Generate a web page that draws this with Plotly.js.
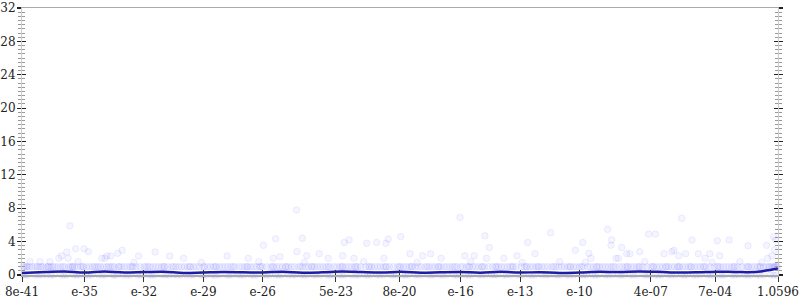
<!DOCTYPE html>
<html><head><meta charset="utf-8">
<script src="https://cdn.plot.ly/plotly-3.0.1.min.js"></script>
<style>html,body{margin:0;padding:0;background:#fff}#c{width:800px;height:300px}</style>
</head><body><div id="c"></div>
<script>
// x values are given as base-10 exponents of the (log-scaled) x quantity
const tickExp = [-38.16, -35, -32, -29, -26, -22.301, -19.097, -16, -13, -10, -6.398, -3.155, 0.02514];
const tickText = ["8e-41", "e-35", "e-32", "e-29", "e-26", "5e-23", "8e-20", "e-16", "e-13", "e-10", "4e-07", "7e-04", "1.0596"];

const row1Exp = [-38.1,-37.95,-37.8,-37.4,-37.2,-37.1,-36.8,-36.6,-36.5,-36.1,-35.8,-35.6,-35.5,-35.2,-35.05,-34.9,-34.6,-34.4,-34.2,-33.9,-33.7,-33.5,-33.3,-33.0,-32.85,-32.7,-32.4,-32.0,-31.9,-31.7,-31.4,-31.25,-31.1,-30.8,-30.6,-30.4,-30.1,-29.8,-29.65,-29.5,-29.2,-28.95,-28.8,-28.5,-28.35,-28.2,-27.9,-27.6,-27.4,-27.2,-26.9,-26.6,-26.45,-26.3,-26.0,-25.8,-25.6,-25.3,-25.15,-25.0,-24.7,-24.4,-24.2,-24.0,-23.7,-23.55,-23.4,-23.1,-22.8,-22.6,-22.4,-22.1,-21.95,-21.8,-21.5,-21.35,-21.2,-20.8,-20.5,-20.35,-20.2,-19.9,-19.75,-19.6,-19.2,-19.05,-18.9,-18.6,-18.3,-18.15,-18.0,-17.6,-17.45,-17.3,-17.0,-16.7,-16.55,-16.4,-16.0,-15.9,-15.7,-15.4,-15.25,-15.1,-14.8,-14.4,-14.25,-14.1,-13.8,-13.65,-13.5,-13.2,-12.95,-12.8,-12.5,-12.35,-12.2,-11.9,-11.6,-11.4,-11.2,-10.9,-10.75,-10.6,-10.3,-10.15,-10.0,-9.6,-9.45,-9.3,-9.0,-8.85,-8.7,-8.4,-8.2,-8.0,-7.7,-7.55,-7.4,-7.1,-6.95,-6.8,-6.4,-6.25,-6.1,-5.8,-5.65,-5.5,-5.2,-4.95,-4.8,-4.5,-4.35,-4.2,-3.9,-3.75,-3.6,-3.2,-3.05,-2.9,-2.6,-2.45,-2.3,-2.0,-1.8,-1.6,-1.3,-1.15,-1.0,-0.7,-0.55,-0.4,-0.2,-0.1,0.0];
const row1ExpB = [-38.02,-37.65,-37.3,-36.95,-36.7,-36.35,-36.0,-35.7,-35.35,-34.75,-34.5,-34.05,-33.8,-33.15,-32.55,-32.2,-31.55,-30.95,-30.25,-29.95,-29.35,-28.65,-28.05,-27.75,-27.05,-26.75,-26.15,-25.45,-24.85,-24.55,-23.85,-23.25,-22.95,-22.25,-21.65,-21.05,-20.65,-20.05,-19.4,-18.75,-18.45,-17.8,-17.15,-16.85,-16.2,-15.55,-14.95,-14.6,-13.95,-13.35,-12.65,-12.05,-11.75,-11.05,-10.45,-9.8,-9.15,-8.55,-7.85,-7.25,-6.6,-5.95,-5.35,-5.05,-4.65,-4.05,-3.4,-2.75,-2.15,-1.45,-0.85,-0.3];
const row1ExpC = [-37.9,-37.5,-36.85,-36.2,-35.62,-35.1,-34.3,-33.6,-33.25,-32.6,-31.8,-31.0,-30.5,-29.7,-29.0,-28.4,-27.5,-26.8,-26.1,-25.5,-24.8,-24.1,-23.5,-22.7,-22.0,-21.3,-20.6,-19.8,-19.1,-18.5,-17.7,-17.1,-16.3,-15.6,-14.9,-14.2,-13.4,-12.7,-12.1,-11.3,-10.5,-9.9,-9.1,-8.3,-7.6,-7.0,-6.3,-5.6,-5.0,-4.4,-3.7,-3.0,-2.2,-1.5,-0.9,-0.45,-0.15,-0.05];
const row1Val = 1;

const row0Exp = [-38.12,-37.85,-37.5,-37.15,-36.9,-36.55,-36.2,-35.9,-35.55,-35.25,-34.95,-34.65,-34.3,-33.95,-33.6,-33.35,-33.05,-32.7,-32.35,-32.05,-31.75,-31.45,-31.1,-30.75,-30.5,-30.15,-29.85,-29.5,-29.15,-28.85,-28.55,-28.2,-27.85,-27.55,-27.25,-26.95,-26.6,-26.3,-25.95,-25.65,-25.35,-25.05,-24.7,-24.35,-24.05,-23.75,-23.45,-23.1,-22.75,-22.45,-22.15,-21.85,-21.5,-21.15,-20.85,-20.55,-20.25,-19.9,-19.55,-19.25,-18.95,-18.65,-18.3,-17.95,-17.65,-17.35,-17.05,-16.7,-16.35,-16.05,-15.75,-15.45,-15.1,-14.75,-14.45,-14.15,-13.85,-13.5,-13.15,-12.85,-12.55,-12.25,-11.9,-11.55,-11.25,-10.95,-10.65,-10.3,-9.95,-9.65,-9.35,-9.05,-8.7,-8.35,-8.05,-7.75,-7.45,-7.1,-6.75,-6.45,-6.15,-5.85,-5.5,-5.15,-4.85,-4.55,-4.25,-3.9,-3.55,-3.25,-2.95,-2.65,-2.3,-1.95,-1.65,-1.35,-1.05,-0.7,-0.35,-0.05];
const row0ExpB = [-38.0,-37.3,-36.7,-36.05,-35.4,-34.8,-34.1,-33.5,-32.85,-32.2,-31.6,-30.9,-30.3,-29.65,-29.0,-28.4,-27.7,-27.1,-26.45,-25.8,-25.2,-24.5,-23.9,-23.3,-22.6,-22.0,-21.3,-20.7,-20.1,-19.4,-18.8,-18.15,-17.5,-16.9,-16.2,-15.6,-14.95,-14.3,-13.7,-13.0,-12.4,-11.7,-11.1,-10.5,-9.8,-9.2,-8.55,-7.9,-7.3,-6.6,-6.0,-5.35,-4.7,-4.1,-3.4,-2.8,-2.15,-1.5,-0.9,-0.2];
const row0Val = 0;

const scatExp = [-35.74,-35.45,-35.03,-34.81,-35.9,-36.16,-36.3,-35.83,-34.13,-33.97,-33.88,-33.68,-33.33,-33.1,-32.27,-31.44,-30.7,-30.0,-27.8,-26.73,-25.97,-25.35,-25.47,-25.13,
 -24.29,-24.0,-16.04,-21.88,-21.64,-20.75,-20.25,-19.78,-19.66,-19.03,-14.78,-14.56,-12.62,
 -24.27,-23.78,-23.15,-22.69,-21.96,-21.39,-19.88,-18.56,-17.92,-17.52,-16.99,-15.79,-15.32,-14.7,-13.82,-13.16,-12.25,
 -11.46,-8.58,-4.84,-6.51,-6.17,-9.84,-8.38,-4.32,-3.04,-2.44,-1.49,-0.55,-10.21,-8.41,-7.87,-9.53,-9.43,-7.62,-7.45,-6.96,-5.73,-5.34,-5.23,-4.99,-4.64,-4.0,-3.42,-2.92,-3.66,-8.16,-8.04,-0.5,-0.28,-0.2,-0.1,-0.15,
 -37.75,-37.25,-36.75,-35.33,-32.5,-29.1,-26.2,-23.9,-20.9,-18.2,-15.5,-12.9,-11.0,-9.7,-6.7,-3.3,-1.9,-0.8];
const scatVal = [5.9,3.15,3.15,2.8,2.76,2.28,2.0,2.0,2.0,2.0,2.28,2.28,2.6,2.96,2.28,2.76,2.28,2.0,2.28,2.0,3.56,4.35,2.0,2.2,
 7.8,4.4,6.9,3.9,4.2,3.8,3.9,3.8,4.3,4.6,4.7,3.3,3.9,
 2.8,2.3,2.55,2.0,2.3,2.0,2.0,2.55,2.3,2.55,2.0,2.3,2.3,2.0,2.0,2.3,2.55,
 5.07,5.47,6.8,4.9,4.9,3.9,4.2,4.2,4.1,4.2,3.5,3.56,2.96,3.56,3.3,2.6,2.0,2.55,2.55,2.8,2.55,2.8,2.96,2.3,2.55,2.55,2.55,2.3,2.0,2.0,2.0,2.0,2.28,4.6,4.2,3.0,
 1.6,1.6,1.6,1.6,1.5,1.5,1.6,1.5,1.6,1.5,1.6,1.5,1.6,1.5,1.6,1.5,1.6,1.5];

const lineExp = [-38.16,-37,-36,-35,-34,-33,-32,-31,-30,-29,-28,-27,-26,-25,-24,-23,-22,-21,-20,-19,-18,-17,-16,-15,-14,-13,-12,-11,-10,-9,-8,-7,-6,-5,-4,-3,-2,-1,-0.4,0.0,0.02514];
const lineVal = [0.25,0.35,0.42,0.3,0.42,0.3,0.35,0.38,0.25,0.3,0.35,0.33,0.3,0.4,0.28,0.32,0.42,0.35,0.3,0.38,0.28,0.33,0.35,0.28,0.38,0.3,0.33,0.25,0.3,0.38,0.35,0.42,0.38,0.3,0.33,0.4,0.35,0.38,0.6,0.8,0.85];

const p10 = e => Math.pow(10, e);
const mk = {size: 6.5, color: 'rgba(30,30,255,0.045)', line: {width: 1, color: 'rgba(30,30,255,0.07)'}};
const r1 = row1Exp.concat(row1ExpB, row1ExpC);
const r0 = row0Exp.concat(row0ExpB);

const traces = [
  {x: r0.map(p10), y: r0.map(() => row0Val), mode: 'markers', type: 'scatter', marker: mk, cliponaxis: false, hoverinfo: 'skip'},
  {x: r1.map(p10), y: r1.map(() => row1Val), mode: 'markers', type: 'scatter', marker: mk, cliponaxis: false, hoverinfo: 'skip'},
  {x: scatExp.map(p10), y: scatVal, mode: 'markers', type: 'scatter', marker: mk, cliponaxis: false, hoverinfo: 'skip'},
  {x: lineExp.map(p10), y: lineVal, mode: 'lines', type: 'scatter', line: {color: '#1c1ca6', width: 2.5, shape: 'spline'}, cliponaxis: false},
  {x: [], y: [], xaxis: 'x2', yaxis: 'y2', type: 'scatter', mode: 'markers', showlegend: false}
];

const xr = [-38.16, 0.02514];
const font = {family: 'DejaVu Serif', size: 12, color: '#222'};
const common_x = {type: 'log', range: xr, tickvals: tickExp.map(p10), ticktext: tickText, tickmode: 'array',
  showgrid: false, zeroline: false, ticklen: 5, tickcolor: '#333', tickwidth: 1};
const common_y = {range: [0, 32], tickmode: 'linear', tick0: 0, dtick: 4, showgrid: false, zeroline: false,
  ticklen: 4, tickcolor: '#222', tickwidth: 1.2};

const layout = {
  width: 800, height: 300, showlegend: false,
  margin: {l: 22, r: 22, t: 8, b: 25, pad: 0},
  paper_bgcolor: '#fff', plot_bgcolor: '#fff', font: font,
  xaxis: Object.assign({}, common_x, {ticks: 'outside', showline: true, linecolor: '#aaa', linewidth: 1.5, mirror: true, tickfont: font}),
  xaxis2: Object.assign({}, common_x, {overlaying: 'x', anchor: 'y2', side: 'bottom', ticks: 'inside', showticklabels: false, showline: false}),
  yaxis: Object.assign({}, common_y, {ticks: 'outside', mirror: 'ticks', showline: true, linecolor: '#ccc', linewidth: 1, tickfont: font, ticklabelstandoff: -1,
    minor: {dtick: 0.5, ticks: 'outside', ticklen: 3, tickcolor: '#999', tickwidth: 1}}),
  yaxis2: Object.assign({}, common_y, {overlaying: 'y', anchor: 'x2', side: 'left', ticks: 'inside', mirror: 'ticks', showticklabels: false, showline: false,
    minor: {dtick: 0.5, ticks: 'inside', ticklen: 3, tickcolor: '#999', tickwidth: 1}})
};

Plotly.newPlot('c', traces, layout, {staticPlot: true, displayModeBar: false});
</script></body></html>
